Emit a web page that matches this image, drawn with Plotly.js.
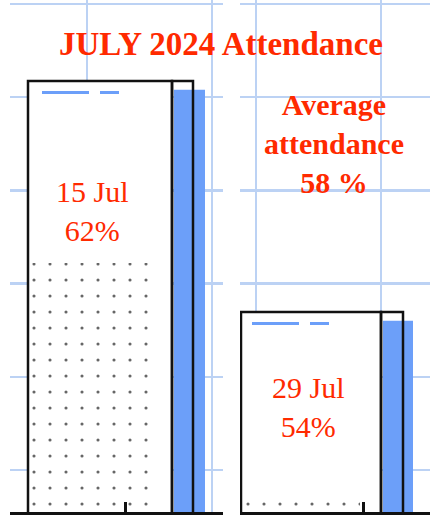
<!DOCTYPE html>
<html><head><meta charset="utf-8">
<script src="https://cdn.plot.ly/plotly-3.0.1.min.js"></script>
<style>html,body{margin:0;padding:0;background:#fff}#chart{width:430px;height:517px}</style>
</head><body><div id="chart"></div>
<script>
// ---- data ----
const dates = ['15 Jul', '29 Jul'];
const attendance = [62, 54];        // % on each bar
const shadowTop = [61.7, 53.7];     // top of the blue side strip
const dottedTop = [55.7, 47.7];     // top of the dotted fill
const averageAttendance = 58;
const chartTitle = 'JULY 2024 Attendance';

// ---- style ----
const RED = '#ff2a00';
const BLUE = '#6c9ff9';
const GRID = '#bcd2f4';
const INK = '#111';
const SERIF = '"Liberation Serif", "Times New Roman", serif';

const panels = [
  {xa: 'x',  ya: 'y',  gx: 'x3', white: [-0.776, 1.152], narrow: [0.376, 0.168], blue: [0.392, 0.248], dots: [-0.776, 0.976], dashStart: 0.112},
  {xa: 'x2', ya: 'y2', gx: 'x4', white: [-0.976, 1.12],  narrow: [0.144, 0.176], blue: [0.16, 0.24],   dots: [-0.976, 0.952], dashStart: 0.088}
];

const traces = [];
const shapes = [];
panels.forEach((p, i) => {
  const base = {type: 'bar', x: [dates[i]], xaxis: p.xa, yaxis: p.ya, hoverinfo: 'skip', showlegend: false};
  traces.push(Object.assign({}, base, {y: [attendance[i]], offset: p.white[0], width: p.white[1],
    marker: {color: '#ffffff', line: {color: INK, width: 2.5}}}));
  traces.push(Object.assign({}, base, {y: [dottedTop[i]], offset: p.dots[0], width: p.dots[1],
    marker: {color: '#666', line: {width: 0},
      pattern: {shape: '.', size: 16, solidity: 0.03, fillmode: 'replace', fgcolor: '#666', bgcolor: 'rgba(0,0,0,0)'}}}));
  traces.push(Object.assign({}, base, {y: [shadowTop[i]], offset: p.blue[0], width: p.blue[1],
    marker: {color: BLUE, line: {width: 0}}}));
  traces.push(Object.assign({}, base, {y: [attendance[i]], offset: p.narrow[0], width: p.narrow[1],
    marker: {color: 'rgba(0,0,0,0)', line: {color: INK, width: 2.5}}}));
  // grid helper axis (empty)
  traces.push({type: 'scatter', x: [], y: [], xaxis: p.gx, yaxis: p.ya, hoverinfo: 'skip', showlegend: false});
  // dashed highlight near the bar top
  const x0 = p.white[0] + p.dashStart;
  shapes.push({type: 'line', xref: p.xa, yref: p.ya, x0: x0, x1: x0 + 0.616,
    y0: attendance[i] - 0.4, y1: attendance[i] - 0.4, layer: 'above',
    line: {color: BLUE, width: 3, dash: '47px,11px,19px,300px'}});
});

const yRange = [47.073, 64.805];
const yAxis = {range: yRange, tick0: 48.528, dtick: 3.228, showgrid: true, gridcolor: GRID, gridwidth: 2.5,
  showticklabels: false, ticks: '', zeroline: false, showline: false, fixedrange: true};
const catAxis = {type: 'category', showgrid: false, ticks: 'inside', ticklen: 10, tickwidth: 3, tickcolor: INK,
  showline: true, linecolor: INK, linewidth: 3, showticklabels: false, zeroline: false, fixedrange: true};
const gridAxis = {type: 'linear', tick0: 0, dtick: 1, showgrid: true, gridcolor: GRID, gridwidth: 2.5,
  showticklabels: false, ticks: '', zeroline: false, showline: false, fixedrange: true};

const layout = {
  width: 430, height: 517,
  margin: {l: 10, r: 0, t: 0, b: 5, pad: 0},
  paper_bgcolor: '#ffffff', plot_bgcolor: '#ffffff',
  barmode: 'overlay', showlegend: false,
  title: {text: '<b>' + chartTitle + '</b>', x: 221 / 430, xanchor: 'center', y: 1 - 43 / 517, yanchor: 'middle',
    font: {family: SERIF, size: 33, color: RED}},
  xaxis: Object.assign({}, catAxis, {domain: [0, 213 / 420], anchor: 'y', range: [-0.92, 0.784]}),
  xaxis2: Object.assign({}, catAxis, {domain: [230 / 420, 1], anchor: 'y2', range: [-0.984, 0.536]}),
  xaxis3: Object.assign({}, gridAxis, {overlaying: 'x', anchor: 'y', range: [-0.616, 1.088]}),
  xaxis4: Object.assign({}, gridAxis, {overlaying: 'x2', anchor: 'y2', range: [-0.128, 1.392]}),
  yaxis: Object.assign({}, yAxis, {anchor: 'x'}),
  yaxis2: Object.assign({}, yAxis, {anchor: 'x2'}),
  shapes: shapes,
  annotations: [
    {xref: 'paper', yref: 'paper', x: (92 - 10) / 420, y: (512 - 211) / 512, xanchor: 'center', yanchor: 'middle',
      text: dates[0] + '<br>' + attendance[0] + '%', showarrow: false, align: 'center',
      font: {family: SERIF, size: 30, color: RED}},
    {xref: 'paper', yref: 'paper', x: (308 - 10) / 420, y: (512 - 407) / 512, xanchor: 'center', yanchor: 'middle',
      text: dates[1] + '<br>' + attendance[1] + '%', showarrow: false, align: 'center',
      font: {family: SERIF, size: 30, color: RED}},
    {xref: 'paper', yref: 'paper', x: (334 - 10) / 420, y: (512 - 143) / 512, xanchor: 'center', yanchor: 'middle',
      text: '<b>Average<br>attendance<br>' + averageAttendance + ' %</b>', showarrow: false, align: 'center',
      font: {family: SERIF, size: 30, color: RED}}
  ]
};

Plotly.newPlot('chart', traces, layout, {displayModeBar: false, staticPlot: true});
</script>
</body></html>
